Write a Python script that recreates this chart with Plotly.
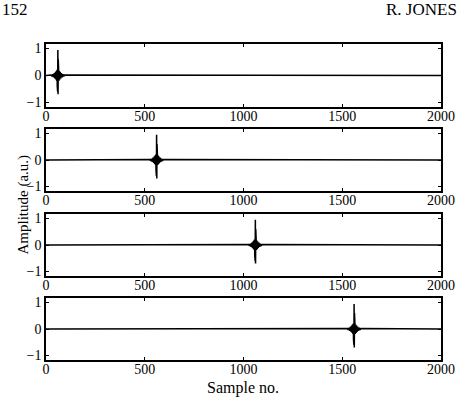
import plotly.graph_objects as go

# ---- data ----
burst_centers = [60, 560, 1060, 1560]
burst_offsets = [-34, -30, -26, -22, -18, -15, -12, -10, -8, -6, -4, -3, -2, -1, 0, 1, 2, 3, 4, 6, 8, 10, 12, 15, 18, 22, 26, 30, 34]
burst_values = [0.02, -0.03, 0.05, -0.07, 0.09, -0.11, 0.13, -0.15, 0.17, -0.19, 0.21, -0.4, 0.85, -0.6, 0.95,
                -0.7, 0.6, -0.35, 0.22, -0.19, 0.17, -0.15, 0.13, -0.11, 0.09, -0.07, 0.05, -0.03, 0.02]
x_start, x_end = 0, 2000
x_ticks = [0, 500, 1000, 1500, 2000]
y_ticks = [-1, 0, 1]
y_tick_labels = ["\u22121", "0", "1"]

FONT = "Liberation Serif"
domains = [[0.8006, 1.0], [0.5348, 0.731], [0.2658, 0.462], [0.0, 0.196]]

H = 400; W = 460; t = 44; b = 40; l = 46; r = 19
ph = H - t - b; pw = W - l - r
def py(pix):
    return (H - b - pix) / ph
def px(pix):
    return (pix - l) / pw

fig = go.Figure()
layout_axes = {}
for i, c in enumerate(burst_centers):
    xs = [x_start] + [c + o for o in burst_offsets] + [x_end]
    ys = [0] + burst_values + [0]
    ax = "" if i == 0 else str(i + 1)
    fig.add_trace(go.Scatter(x=xs, y=ys, mode="lines",
                             line=dict(color="black", width=1.5),
                             xaxis="x" + ax, yaxis="y" + ax, showlegend=False,
                             hoverinfo="skip"))
    layout_axes["xaxis" + ax] = dict(domain=[0, 1], range=[0, 2000], tickvals=x_ticks,
                                     anchor="y" + ax, ticklabelstandoff=-5)
    layout_axes["yaxis" + ax] = dict(domain=domains[i], range=[-1.17, 1.17], tickvals=y_ticks,
                                     ticktext=y_tick_labels, anchor="x" + ax)

fig.update_layout(**layout_axes)
common = dict(ticks="inside", ticklen=3, tickwidth=1, tickcolor="black",
              showline=True, linecolor="black", linewidth=1.5, mirror="ticks",
              showgrid=False, zeroline=False, automargin=False,
              tickfont=dict(family=FONT, size=14, color="black"))
fig.update_xaxes(**common)
fig.update_yaxes(**common)

fig.update_layout(
    width=W, height=H,
    margin=dict(l=l, r=r, t=t, b=b),
    paper_bgcolor="white", plot_bgcolor="white",
    font=dict(family=FONT, color="black", size=14),
    annotations=[
        dict(text="Sample no.", x=px(243), y=py(388), xref="paper", yref="paper", showarrow=False,
             font=dict(family=FONT, size=16), yanchor="middle"),
        dict(text="152", x=px(0), y=py(9), xref="paper", yref="paper", showarrow=False,
             font=dict(family=FONT, size=17), xanchor="left", yanchor="middle"),
        dict(text="R. JONES", x=px(459), y=py(9), xref="paper", yref="paper", showarrow=False,
             font=dict(family=FONT, size=17), xanchor="right", yanchor="middle"),
        dict(text="Amplitude (a.u.)", x=px(12), y=py(205), xref="paper", yref="paper", showarrow=False,
             font=dict(family=FONT, size=15), textangle=-90),
    ],
)

fig.write_html("out.html")
